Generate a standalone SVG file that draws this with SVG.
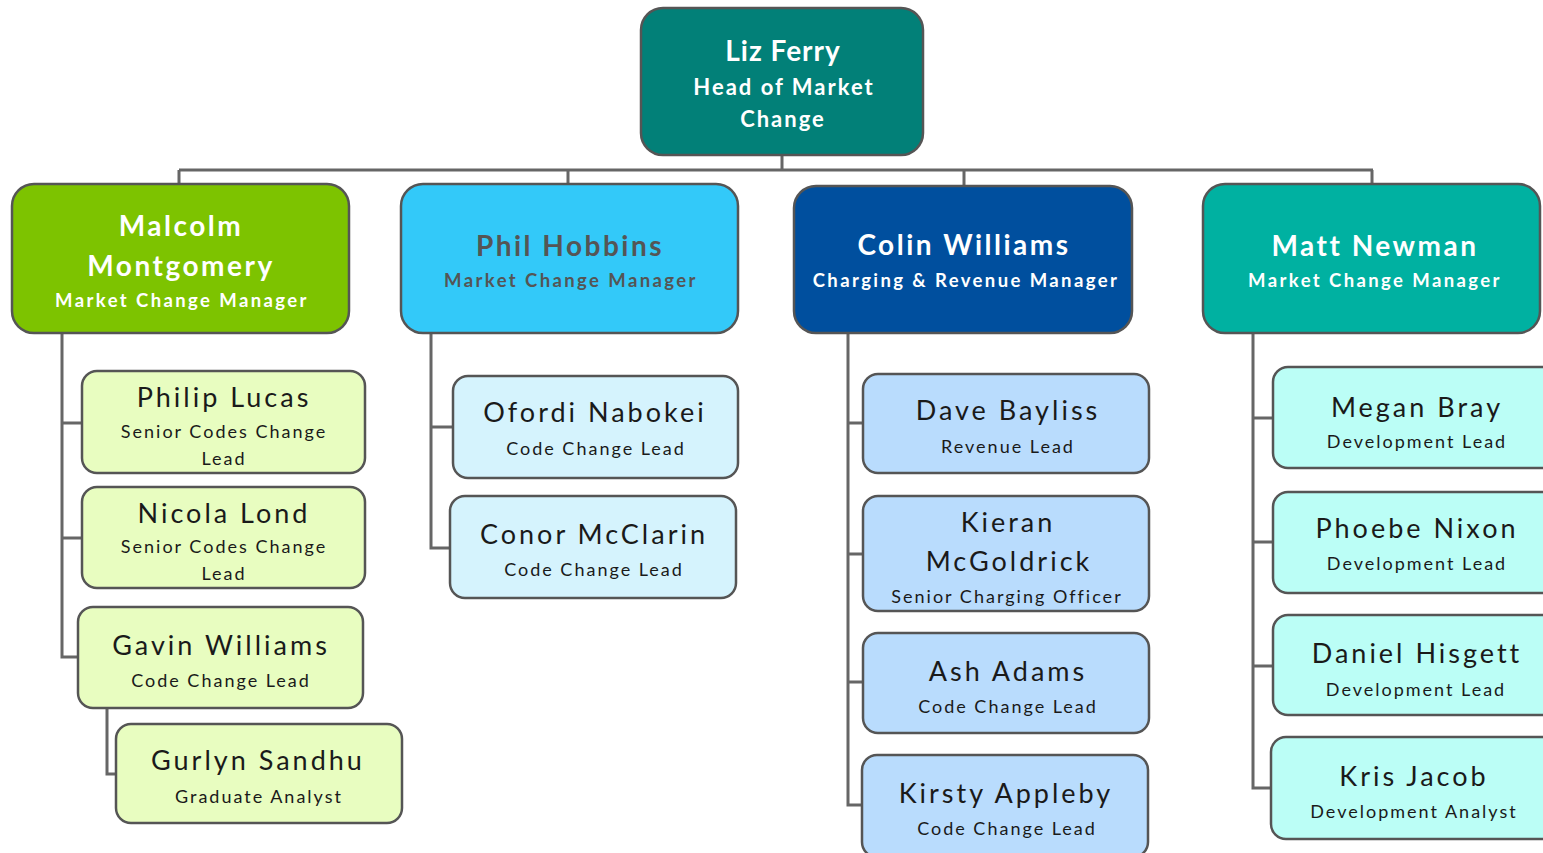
<svg xmlns="http://www.w3.org/2000/svg" width="1543" height="853" viewBox="0 0 1543 853">
<style>
.b{stroke:#555;stroke-width:2.5}
.c{fill:none;stroke:#666;stroke-width:3}
text{font-family:Lato,"Noto Sans",sans-serif;text-anchor:middle}
.h{font-size:28px;font-weight:bold;fill:#fff;letter-spacing:2.5px}
.hs{font-size:18.5px;font-weight:bold;fill:#fff;letter-spacing:2.4px}
.t{font-size:22px;letter-spacing:2px}
.g{fill:#555}
.n{font-size:27px;fill:#1a1a1a;letter-spacing:3px}
.s{font-size:18px;fill:#1a1a1a;letter-spacing:2px}
.lg{fill:#E8FDC0}.lb{fill:#D5F3FD}.cb{fill:#B9DCFD}.cy{fill:#BBFEF6}
</style>
<g id="connectors">
<path class="c" d="M782 155V170M179 170H1373M179 170V184M568 170V184M964 170V186M1372 170V184"/>
<path class="c" d="M62 333V657H78M62 423H82M62 538H82M107 708V774H116"/>
<path class="c" d="M431 333V548H450M431 427H453"/>
<path class="c" d="M848 333V805H862M848 423H863M848 554H863M848 682H863"/>
<path class="c" d="M1253 333V788H1271M1253 418H1273M1253 542H1273M1253 666H1273"/>
</g>
<g id="liz"><rect class="b" x="641" y="8" width="282" height="147" rx="22" fill="#028078"/>
<text class="h" x="783" y="61" style="letter-spacing:1px">Liz Ferry</text><text class="hs t" x="784" y="95">Head of Market</text><text class="hs t" x="783" y="127">Change</text></g>
<g id="malcolm"><rect class="b" x="12" y="184" width="337" height="149" rx="22" fill="#7DC300"/>
<text class="h" x="181" y="236">Malcolm</text><text class="h" x="181" y="276">Montgomery</text><text class="hs" x="182" y="307">Market Change Manager</text></g>
<g id="phil"><rect class="b" x="401" y="184" width="337" height="149" rx="22" fill="#33C9F9"/>
<text class="h g" x="570" y="256">Phil Hobbins</text><text class="hs g" x="571" y="287">Market Change Manager</text></g>
<g id="colin"><rect class="b" x="794" y="186" width="338" height="147" rx="22" fill="#004F9E"/>
<text class="h" x="964" y="255">Colin Williams</text><text class="hs" x="966" y="287">Charging &amp; Revenue Manager</text></g>
<g id="matt"><rect class="b" x="1203" y="184" width="337" height="149" rx="22" fill="#00B1A1"/>
<text class="h" x="1375" y="256">Matt Newman</text><text class="hs" x="1375" y="287">Market Change Manager</text></g>
<g id="philip"><rect class="b lg" x="82" y="371" width="283" height="102" rx="15"/>
<text class="n" x="224" y="407">Philip Lucas</text><text class="s" x="224" y="438">Senior Codes Change</text><text class="s" x="224" y="465">Lead</text></g>
<g id="nicola"><rect class="b lg" x="82" y="487" width="283" height="101" rx="15"/>
<text class="n" x="224" y="523">Nicola Lond</text><text class="s" x="224" y="553">Senior Codes Change</text><text class="s" x="224" y="580">Lead</text></g>
<g id="gavin"><rect class="b lg" x="78" y="607" width="285" height="101" rx="15"/>
<text class="n" x="221" y="655">Gavin Williams</text><text class="s" x="221" y="687">Code Change Lead</text></g>
<g id="gurlyn"><rect class="b lg" x="116" y="724" width="286" height="99" rx="15"/>
<text class="n" x="258" y="770">Gurlyn Sandhu</text><text class="s" x="259" y="803">Graduate Analyst</text></g>
<g id="ofordi"><rect class="b lb" x="453" y="376" width="285" height="102" rx="15"/>
<text class="n" x="595" y="422">Ofordi Nabokei</text><text class="s" x="596" y="455">Code Change Lead</text></g>
<g id="conor"><rect class="b lb" x="450" y="496" width="286" height="102" rx="15"/>
<text class="n" x="594" y="544">Conor McClarin</text><text class="s" x="594" y="576">Code Change Lead</text></g>
<g id="dave"><rect class="b cb" x="863" y="374" width="286" height="99" rx="15"/>
<text class="n" x="1008" y="420">Dave Bayliss</text><text class="s" x="1008" y="453">Revenue Lead</text></g>
<g id="kieran"><rect class="b cb" x="863" y="496" width="286" height="115" rx="15"/>
<text class="n" x="1008" y="532">Kieran</text><text class="n" x="1009" y="571">McGoldrick</text><text class="s" x="1007" y="603">Senior Charging Officer</text></g>
<g id="ash"><rect class="b cb" x="863" y="633" width="286" height="100" rx="15"/>
<text class="n" x="1008" y="681">Ash Adams</text><text class="s" x="1008" y="713">Code Change Lead</text></g>
<g id="kirsty"><rect class="b cb" x="862" y="755" width="286" height="102" rx="15"/>
<text class="n" x="1006" y="803">Kirsty Appleby</text><text class="s" x="1007" y="835">Code Change Lead</text></g>
<g id="megan"><rect class="b cy" x="1273" y="367" width="286" height="101" rx="15"/>
<text class="n" x="1417" y="417">Megan Bray</text><text class="s" x="1417" y="448">Development Lead</text></g>
<g id="phoebe"><rect class="b cy" x="1273" y="492" width="286" height="101" rx="15"/>
<text class="n" x="1417" y="538">Phoebe Nixon</text><text class="s" x="1417" y="570">Development Lead</text></g>
<g id="daniel"><rect class="b cy" x="1273" y="615" width="286" height="100" rx="15"/>
<text class="n" x="1417" y="663">Daniel Hisgett</text><text class="s" x="1416" y="696">Development Lead</text></g>
<g id="kris"><rect class="b cy" x="1271" y="737" width="286" height="102" rx="15"/>
<text class="n" x="1414" y="786">Kris Jacob</text><text class="s" x="1414" y="818">Development Analyst</text></g>
</svg>
